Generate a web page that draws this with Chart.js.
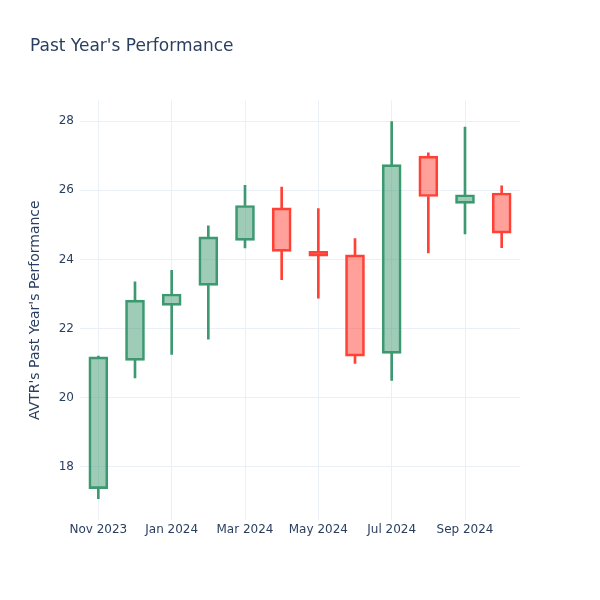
<!DOCTYPE html>
<html>
<head>
<meta charset="utf-8">
<script src="https://cdn.jsdelivr.net/npm/chart.js@4.4.1/dist/chart.umd.min.js"></script>
<style>
  html, body { margin: 0; padding: 0; background: #fff; }
  canvas { display: block; }
</style>
</head>
<body>
<canvas id="chart" width="600" height="600"></canvas>
<script>
const months = ["Nov 2023", "Dec 2023", "Jan 2024", "Feb 2024", "Mar 2024", "Apr 2024",
  "May 2024", "Jun 2024", "Jul 2024", "Aug 2024", "Sep 2024", "Oct 2024"];
const opens  = [17.37, 21.08, 22.67, 23.25, 24.55, 25.49, 24.23, 24.13, 21.28, 26.99, 25.62, 25.92];
const highs  = [21.20, 23.35, 23.68, 24.97, 26.14, 26.09, 25.47, 24.60, 27.99, 27.08, 27.83, 26.13];
const lows   = [17.08, 20.57, 21.25, 21.69, 24.33, 23.41, 22.88, 20.99, 20.50, 24.19, 24.74, 24.34];
const closes = [21.18, 22.82, 23.00, 24.65, 25.56, 24.23, 24.09, 21.20, 26.74, 25.82, 25.87, 24.76];
const yTicks = [18, 20, 22, 24, 26, 28];

const UP = "#3d9970";
const DOWN = "#ff4136";
const UP_FILL = "rgba(61,153,112,0.5)";
const DOWN_FILL = "rgba(255,65,54,0.5)";
const TEXT = "#2a3f5f";
const GRID = "#ebf0f8";
const FONT = "'DejaVu Sans', Verdana, sans-serif";

const isUp = opens.map((o, i) => closes[i] >= o);
const lineColors = isUp.map((u) => (u ? UP : DOWN));
const fillColors = isUp.map((u) => (u ? UP_FILL : DOWN_FILL));

const bodies = opens.map((o, i) => [Math.min(o, closes[i]), Math.max(o, closes[i])]);
const lowerWicks = lows.map((l, i) => [l, bodies[i][0]]);
const upperWicks = highs.map((h, i) => [bodies[i][1], h]);

const wick = (data) => ({
  data,
  grouped: false,
  barThickness: 2,
  backgroundColor: lineColors,
  borderWidth: 0,
});

new Chart(document.getElementById("chart"), {
  type: "bar",
  data: {
    labels: months,
    datasets: [
      wick(lowerWicks),
      wick(upperWicks),
      {
        data: bodies,
        grouped: false,
        barThickness: 19,
        backgroundColor: fillColors,
        borderColor: lineColors,
        borderWidth: 2,
        borderSkipped: false,
      },
    ],
  },
  options: {
    responsive: false,
    animation: false,
    layout: { padding: { left: 30, right: 80, top: 35, bottom: 0 } },
    plugins: {
      legend: { display: false },
      tooltip: { enabled: false },
      title: {
        display: true,
        text: "Past Year's Performance",
        align: "start",
        color: TEXT,
        font: { family: FONT, size: 17, weight: "normal" },
        padding: { top: 1, bottom: 44 },
      },
    },
    scales: {
      x: {
        type: "category",
        offset: true,
        border: { display: false },
        grid: {
          offset: false,
          drawTicks: false,
          color: (ctx) => (ctx.index % 2 === 0 ? GRID : "rgba(0,0,0,0)"),
        },
        ticks: {
          autoSkip: false,
          maxRotation: 0,
          padding: 3,
          color: TEXT,
          font: { family: FONT, size: 12 },
          callback: (v, i) => (i % 2 === 0 ? months[i] : ""),
        },
        afterFit: (scale) => { scale.height = 80; },
      },
      y: {
        min: 16.46,
        max: 28.6,
        border: { display: false },
        grid: { color: GRID, drawTicks: false },
        afterBuildTicks: (scale) => { scale.ticks = yTicks.map((v) => ({ value: v })); },
        ticks: {
          padding: 6,
          color: TEXT,
          font: { family: FONT, size: 12 },
        },
        title: {
          display: true,
          text: "AVTR's Past Year's Performance",
          color: TEXT,
          font: { family: FONT, size: 14 },
          padding: { top: -3, bottom: 0 },
        },
        afterFit: (scale) => { scale.width = 50; },
      },
    },
  },
});
</script>
</body>
</html>
